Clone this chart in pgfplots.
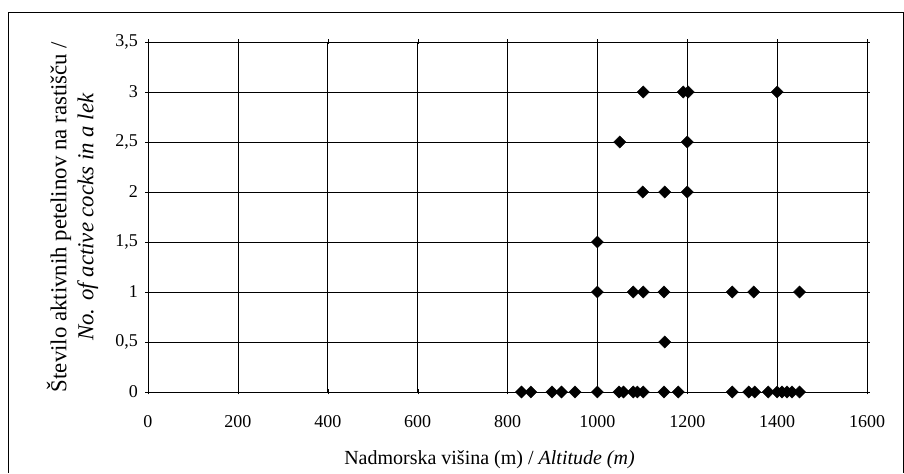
\documentclass[border=0pt]{standalone}
\usepackage{pgfplots}
\pgfplotsset{compat=1.18}
\usepackage{fontspec}
\setmainfont{Liberation Serif}
\begin{document}
\begin{tikzpicture}[x=1pt,y=1pt]
\begin{axis}[
  at={(0,0)}, anchor=origin,
  scale only axis, width=719pt, height=350pt,
  xmin=0, xmax=1600, ymin=0, ymax=3.5,
  xtick={0,200,...,1600}, ytick={0,0.5,...,3.5},
  grid=major, major grid style={black, line width=0.6pt},
  axis line style={black, line width=0.6pt},
  tick align=center, major tick length=5pt, tick style={black},
  /pgf/number format/assume math mode=true,
  /pgf/number format/use comma,
  /pgf/number format/1000 sep={},
  xticklabel style={font=\fontsize{18}{21}\selectfont, yshift=-17pt},
  yticklabel style={font=\fontsize{18}{21}\selectfont, xshift=-4pt},
  scaled ticks=false,
  xlabel={Nadmorska višina (m) / \textit{Altitude (m)}},
  ylabel={\begin{tabular}{c}Število aktivnih petelinov na rastišču /\\\textit{No. of active cocks in a lek}\end{tabular}},
  xlabel style={font=\fontsize{20}{24}\selectfont, yshift=-17pt, xshift=-18pt},
  ylabel style={font=\fontsize{22.8}{27}\selectfont, yshift=7pt},
  clip=false,
]
\addplot[only marks, mark=square*, mark options={rotate=45, fill=black, draw=black}, mark size=4.3pt] coordinates {
(831,0) (852,0) (899,0) (920,0) (950,0) (1000,0) (1048,0) (1058,0) (1080,0) (1089,0) (1102,0) (1148,0) (1180,0)
(1300,0) (1337,0) (1350,0) (1380,0) (1400,0) (1411,0) (1422,0) (1433,0) (1450,0)
(1150,0.5)
(1000,1) (1080,1) (1102,1) (1148,1) (1300,1) (1348,1) (1450,1)
(1000,1.5)
(1101,2) (1150,2) (1200,2)
(1050,2.5) (1200,2.5)
(1102,3) (1191,3) (1202,3) (1400,3)
};
\end{axis}
\draw[black, line width=0.6pt] (-140,-81) -- (-140,380) -- (755,380) -- (755,-81);
\useasboundingbox (-148,-81) rectangle (756,392);
\end{tikzpicture}
\end{document}
